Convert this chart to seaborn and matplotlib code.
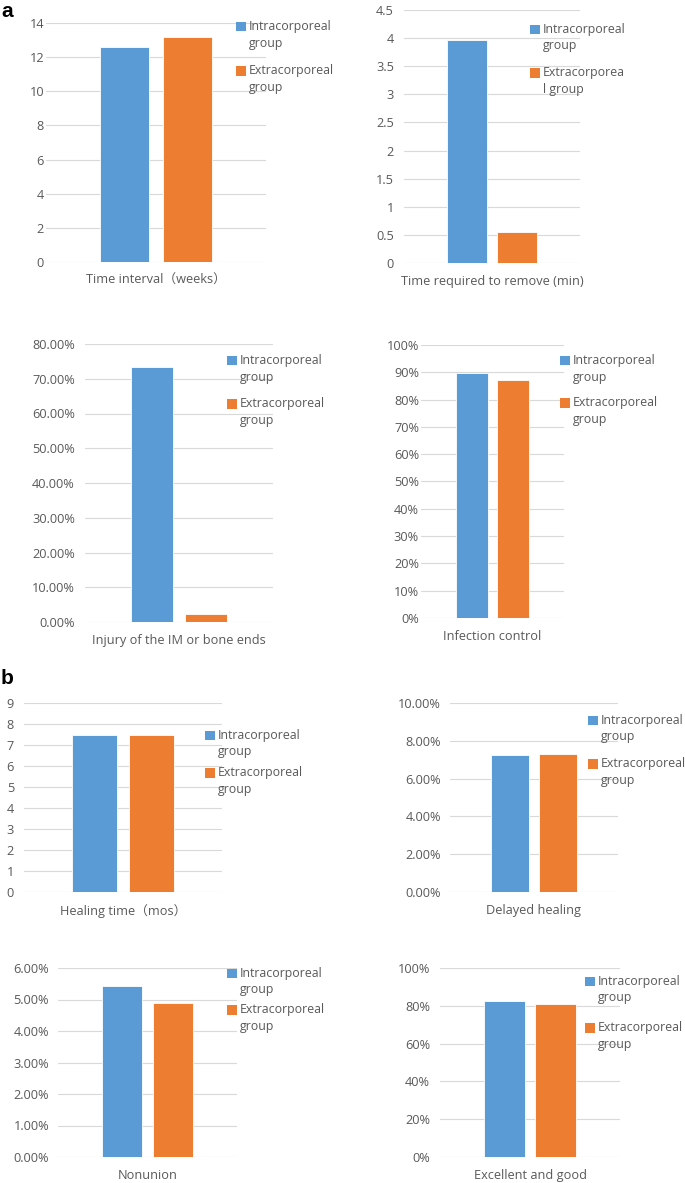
import numpy as np
import pandas as pd
import seaborn as sns
import matplotlib
matplotlib.use("Agg")
import matplotlib.pyplot as plt
from matplotlib.patches import Rectangle
from matplotlib.legend_handler import HandlerPatch
from matplotlib.ticker import FuncFormatter

# ---------------- data ----------------
groups = ["Intracorporeal group", "Extracorporeal group"]
categories = [
    "Time interval（weeks）",
    "Time required to remove (min)",
    "Injury of the IM or bone ends",
    "Infection control",
    "Healing time（mos）",
    "Delayed healing",
    "Nonunion",
    "Excellent and good",
]
intra_values = [12.6, 3.96, 0.735, 0.899, 7.46, 0.0726, 0.0543, 0.828]
extra_values = [13.2, 0.56, 0.024, 0.871, 7.49, 0.0732, 0.0488, 0.808]
y_max = [14, 4.5, 0.80, 1.0, 9, 0.10, 0.06, 1.0]
y_step = [2, 0.5, 0.10, 0.10, 1, 0.02, 0.01, 0.20]
y_formats = ["num", "num", "pct2", "pct0", "num", "pct2", "pct2", "pct0"]
legend_labels = [
    ["Intracorporeal\ngroup", "Extracorporeal\ngroup"],
    ["Intracorporeal\ngroup", "Extracorporea\nl group"],
    ["Intracorporeal\ngroup", "Extracorporeal\ngroup"],
    ["Intracorporeal\ngroup", "Extracorporeal\ngroup"],
    ["Intracorporeal\ngroup", "Extracorporeal\ngroup"],
    ["Intracorporeal\ngroup", "Extracorporeal\ngroup"],
    ["Intracorporeal\ngroup", "Extracorporeal\ngroup"],
    ["Intracorporeal\ngroup", "Extracorporeal\ngroup"],
]

# ---------------- layout (pixels) ----------------
W, H = 685, 1183
# plot boxes: left, top, right, bottom
boxes = [
    (46, 23, 266, 262),
    (404, 10, 580, 263),
    (85, 344, 273, 622),
    (421, 345, 564, 618),
    (24, 703, 222, 892),
    (450, 703, 618, 892),
    (58, 968, 237, 1157),
    (440, 968, 620, 1157),
]
ytick_pad_px = [2, 10, 10, 2, 10, 9, 9, 10]
# legend: left of square, top of first square, entry pitch
leg_pos = [
    (236, 23, 43),
    (530, 26, 42),
    (227, 357, 42),
    (560, 357, 41),
    (205, 732, 36),
    (588, 717, 42),
    (227, 970, 35),
    (585, 978, 45),
]

BLUE = "#5B9BD5"
ORANGE = "#ED7D31"
TXT = "#595959"
GRID = "#D9D9D9"
FAM = ["Open Sans", "Noto Sans CJK SC", "DejaVu Sans"]
FS = 9.2
FS_LEG = 8.9

sns.set_theme(style="white")
plt.rcParams["font.family"] = FAM

fig = plt.figure(figsize=(W / 100, H / 100), dpi=100)


class TopSquareHandler(HandlerPatch):
    def __init__(self, shift, **kw):
        super().__init__(**kw)
        self.shift = shift

    def create_artists(self, legend, orig_handle, xdescent, ydescent,
                       width, height, fontsize, trans):
        p = Rectangle((-xdescent, -ydescent + self.shift * fontsize),
                      width, height,
                      facecolor=orig_handle.get_facecolor(),
                      edgecolor="none", transform=trans)
        return [p]


def fmt_for(kind):
    if kind == "pct2":
        return FuncFormatter(lambda v, p: f"{v * 100:.2f}%")
    if kind == "pct0":
        return FuncFormatter(lambda v, p: f"{v * 100:.0f}%")
    return FuncFormatter(lambda v, p: f"{v:g}")


for i in range(8):
    l, t, r, b = boxes[i]
    ax = fig.add_axes([l / W, 1 - b / H, (r - l) / W, (b - t) / H])
    df = pd.DataFrame({
        "category": [categories[i]] * 2,
        "group": groups,
        "value": [intra_values[i], extra_values[i]],
    })
    sns.barplot(data=df, x="category", y="value", hue="group",
                hue_order=groups, palette=[BLUE, ORANGE], saturation=1,
                width=0.57, gap=0.21, ax=ax, legend=False,
                edgecolor="white", linewidth=0.6)
    ax.set_ylim(0, y_max[i])
    ax.set_yticks(np.arange(0, y_max[i] + y_step[i] / 2, y_step[i]))
    ax.yaxis.set_major_formatter(fmt_for(y_formats[i]))
    ax.set_xlabel("")
    ax.set_ylabel("")
    for s in ax.spines.values():
        s.set_visible(False)
    ax.grid(axis="y", color=GRID, linewidth=0.8)
    ax.grid(axis="x", visible=False)
    ax.set_axisbelow(True)
    ax.tick_params(axis="y", length=0, pad=ytick_pad_px[i] * 0.72,
                   labelsize=FS, labelcolor=TXT)
    ax.tick_params(axis="x", length=0, pad=8.5, labelsize=FS, labelcolor=TXT)
    for lab in ax.get_yticklabels() + ax.get_xticklabels():
        lab.set_family(FAM)

    # legend
    lx, ly, pitch = leg_pos[i]
    handles = [Rectangle((0, 0), 1, 1, facecolor=c) for c in (BLUE, ORANGE)]
    em = FS_LEG / 0.72
    sq = 9.5 / em
    line_h = 16.7  # px line pitch
    spacing = (pitch - line_h - em * 1.2 + 3.5) / em
    leg = fig.legend(handles, legend_labels[i], loc="upper left",
                     bbox_to_anchor=(lx / W, 1 - (ly - 3) / H),
                     bbox_transform=fig.transFigure,
                     frameon=False, borderpad=0, borderaxespad=0,
                     handlelength=sq, handleheight=sq, handletextpad=0.3,
                     labelspacing=max(spacing, 0.05),
                     prop={"family": FAM, "size": FS_LEG},
                     handler_map={Rectangle: TopSquareHandler(shift=0.72)})
    for txt in leg.get_texts():
        txt.set_color(TXT)
        txt.set_linespacing(1.35)

fig.text(1 / W, 1 - 17 / H, "a", fontsize=15, fontweight="bold",
         family=["Liberation Sans", "DejaVu Sans"], va="baseline", ha="left",
         color="black")
fig.text(1 / W, 1 - 684 / H, "b", fontsize=15, fontweight="bold",
         family=["Liberation Sans", "DejaVu Sans"], va="baseline", ha="left",
         color="black")

fig.savefig("out.png", dpi=100, facecolor="white")
